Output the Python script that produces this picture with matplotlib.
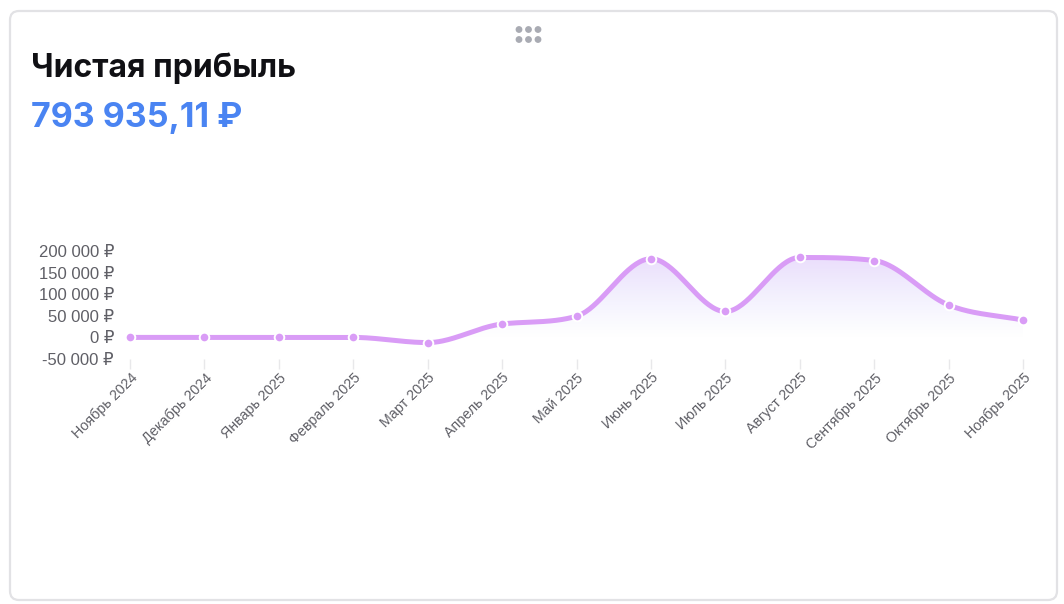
import numpy as np
import matplotlib
matplotlib.use('Agg')
import matplotlib.pyplot as plt
from matplotlib.patches import FancyBboxPatch, Polygon

# Data
months = ['Ноябрь 2024', 'Декабрь 2024', 'Январь 2025', 'Февраль 2025', 'Март 2025',
          'Апрель 2025', 'Май 2025', 'Июнь 2025', 'Июль 2025', 'Август 2025',
          'Сентябрь 2025', 'Октябрь 2025', 'Ноябрь 2025']
profit = [0, 0, 0, 0, -12000, 31000, 49000, 182000, 60000, 185000, 178000, 75000, 40000]
y_ticks = [-50000, 0, 50000, 100000, 150000, 200000]
title = 'Чистая прибыль'
total = '793 935,11 ₽'

FONT = ['Liberation Sans', 'DejaVu Sans']
HEAD = ['Inter', 'Liberation Sans', 'DejaVu Sans']
LINE = '#d99cf6'


def rub(v):
    return f'{v:,.0f}'.replace(',', ' ') + ' ₽'


def monotone(x, y, n=40):
    # Fritsch-Carlson monotone cubic, like chart.js cubicInterpolationMode 'monotone'
    x = np.asarray(x, float)
    y = np.asarray(y, float)
    h = np.diff(x)
    d = np.diff(y) / h
    m = np.zeros_like(y)
    m[0], m[-1] = d[0], d[-1]
    for i in range(1, len(y) - 1):
        if d[i - 1] * d[i] <= 0:
            m[i] = 0
        else:
            m[i] = (d[i - 1] + d[i]) / 2
    for i in range(len(d)):
        if d[i] == 0:
            m[i] = m[i + 1] = 0
            continue
        a, b = m[i] / d[i], m[i + 1] / d[i]
        s = a * a + b * b
        if s > 9:
            t = 3 / np.sqrt(s)
            m[i], m[i + 1] = t * a * d[i], t * b * d[i]
    xs, ys = [], []
    for i in range(len(d)):
        t = np.linspace(0, 1, n, endpoint=(i == len(d) - 1))
        h00 = 2 * t**3 - 3 * t**2 + 1
        h10 = t**3 - 2 * t**2 + t
        h01 = -2 * t**3 + 3 * t**2
        h11 = t**3 - t**2
        xs.append(x[i] + t * h[i])
        ys.append(h00 * y[i] + h10 * h[i] * m[i] + h01 * y[i + 1] + h11 * h[i] * m[i + 1])
    return np.concatenate(xs), np.concatenate(ys)


W, H = 1064, 604
fig = plt.figure(figsize=(W / 100, H / 100), dpi=100)
fig.patch.set_facecolor('white')

# background layer in pixel coordinates: card + drag handle
bg = fig.add_axes([0, 0, 1, 1], zorder=0)
bg.set_xlim(0, W)
bg.set_ylim(H, 0)
bg.axis('off')
bg.add_patch(FancyBboxPatch((10, 11), 1047, 589, boxstyle='round,pad=0,rounding_size=9',
                            facecolor='white', edgecolor='#e2e2e5', linewidth=1.6))
for r in range(2):
    for c in range(3):
        bg.add_patch(plt.Circle((519 + c * 9.5, 29.5 + r * 10), 2.7, color='#a9abb3'))

bg.text(31, 68, title, fontsize=23, fontweight='bold', color='#101014',
        family=HEAD, va='center', ha='left')
bg.text(31, 118, total, fontsize=24.5, fontweight='bold', color='#4a84f2',
        family=HEAD, va='center', ha='left')

x0, x1 = 130, 1023
ytop, ybot = 251, 359
ax = fig.add_axes([x0 / W, 1 - ybot / H, (x1 - x0) / W, (ybot - ytop) / H], zorder=1)
ax.set_facecolor('none')
x = np.arange(len(months))
ax.set_xlim(0, len(months) - 1)
ax.set_ylim(y_ticks[0], y_ticks[-1])

xs, ys = monotone(x, profit)

# gradient fill under the curve
poly = Polygon(np.column_stack([np.r_[xs, xs[-1], xs[0]], np.r_[ys, y_ticks[0], y_ticks[0]]]),
               closed=True, facecolor='none', edgecolor='none')
ax.add_patch(poly)
fy = np.linspace(1, 0, 200)
top = np.array([0.86, 0.76, 0.98])
bot = np.array([0.82, 0.86, 0.99])
grad = np.zeros((200, 2, 4))
grad[..., :3] = (bot[None, :] + (top - bot)[None, :] * fy[:, None])[:, None, :]
alpha = np.clip(np.linspace(200000, -50000, 200) / 200000, 0, 1) * 0.6
grad[..., 3] = alpha[:, None]
im = ax.imshow(grad, extent=[0, len(months) - 1, y_ticks[0], y_ticks[-1]],
               aspect='auto', origin='upper', zorder=1)
im.set_clip_path(poly)

ax.plot(xs, ys, color=LINE, linewidth=3.6, solid_capstyle='round', zorder=2, clip_on=False)
ax.scatter(x, profit, s=48, color=LINE, edgecolors='white', linewidths=1.4,
           zorder=3, clip_on=False)

for s in ax.spines.values():
    s.set_visible(False)
ax.set_yticks(y_ticks)
ax.set_yticklabels([rub(v) for v in y_ticks], family=FONT, fontsize=12, color='#5f5f66')
ax.tick_params(axis='y', length=0, pad=11.5)
ax.set_xticks(x)
ax.set_xticklabels(months, rotation=45, ha='right', rotation_mode='anchor',
                   family=FONT, fontsize=10.3, color='#5f5f66')
ax.tick_params(axis='x', length=7, color='#e8e8ea', width=1, pad=1.5)

fig.savefig('out.png', dpi=100, facecolor='white')
